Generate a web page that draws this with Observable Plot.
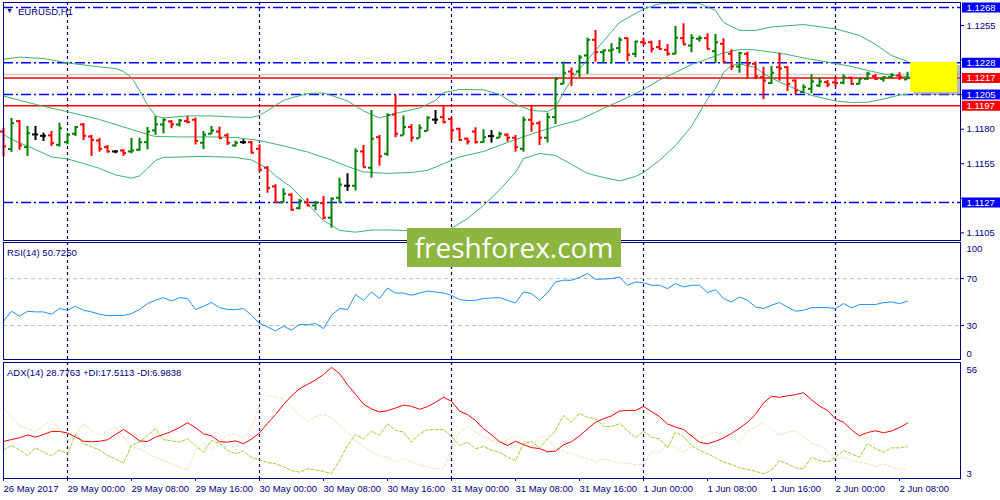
<!DOCTYPE html>
<html><head><meta charset="utf-8">
<script src="https://cdn.jsdelivr.net/npm/d3@7"></script>
<script src="https://cdn.jsdelivr.net/npm/@observablehq/plot@0.6"></script>
<style>
body{margin:0;background:#fff;}
#chart{position:relative;width:1000px;height:500px;overflow:hidden;background:#fff;font-family:"Liberation Sans",Arial,sans-serif;}
#chart svg{position:absolute;left:0;overflow:visible;background:transparent;}
.lbl{position:absolute;font-size:9.5px;line-height:11px;color:#000080;white-space:nowrap;}
#wm{position:absolute;left:407px;top:228px;width:214px;height:39px;background:#8cb640;color:#fff;font-family:"Open Sans",sans-serif;font-size:28px;line-height:39px;text-align:center;}
</style></head><body><div id="chart"></div>
<script>
// ---------- data (EURUSD H1, 26 May 2017 16:00 .. 2 Jun 2017 09:00) ----------
const timeLabels = ["26 May 2017","29 May 00:00","29 May 08:00","29 May 16:00","30 May 00:00","30 May 08:00","30 May 16:00","31 May 00:00","31 May 08:00","31 May 16:00","1 Jun 00:00","1 Jun 08:00","1 Jun 16:00","2 Jun 00:00","2 Jun 08:00"];
const opens = [1.11783,1.11656,1.11858,1.1167,1.11762,1.11752,1.11755,1.11687,1.11706,1.11767,1.11834,1.11747,1.11718,1.1167,1.11639,1.11646,1.11639,1.11651,1.11706,1.11791,1.11834,1.11856,1.11834,1.11858,1.11868,1.11702,1.11767,1.11783,1.11755,1.11682,1.11706,1.11706,1.11658,1.11521,1.11386,1.11272,1.11326,1.11229,1.11272,1.11248,1.11265,1.1116,1.11304,1.11391,1.11391,1.11639,1.11521,1.11742,1.11622,1.11906,1.11755,1.11815,1.11734,1.11787,1.11869,1.11887,1.11874,1.11803,1.11731,1.11783,1.11706,1.1175,1.11738,1.1176,1.11738,1.11658,1.11868,1.11843,1.11738,1.11887,1.12128,1.12217,1.12217,1.12333,1.12446,1.12357,1.12369,1.12386,1.12458,1.12345,1.12429,1.12429,1.12393,1.12374,1.12345,1.12458,1.12405,1.12454,1.12458,1.12364,1.12418,1.12345,1.12253,1.12345,1.12273,1.12176,1.12133,1.12248,1.12248,1.12152,1.12068,1.12092,1.12116,1.1214,1.12138,1.12136,1.12172,1.12128,1.12164,1.12183,1.12164,1.12176,1.12188,1.1216];
const highs = [1.11807,1.11877,1.11863,1.1182,1.1182,1.11771,1.11783,1.11843,1.11771,1.1182,1.11841,1.11755,1.11733,1.11682,1.11646,1.11651,1.11733,1.11735,1.11812,1.11892,1.11875,1.11863,1.1187,1.11892,1.11881,1.11783,1.1182,1.11815,1.11767,1.11713,1.11723,1.11711,1.11687,1.1153,1.11398,1.11369,1.11333,1.11292,1.11297,1.11277,1.11314,1.11304,1.11446,1.11478,1.11658,1.11682,1.11935,1.11755,1.11911,1.12044,1.11896,1.11833,1.11831,1.1189,1.11935,1.11964,1.11881,1.11807,1.11735,1.1181,1.11796,1.11791,1.11778,1.11767,1.11755,1.11887,1.11964,1.11856,1.11916,1.12172,1.12285,1.12243,1.12333,1.12458,1.12514,1.12374,1.12418,1.12461,1.12461,1.12434,1.12458,1.12436,1.12441,1.12413,1.12543,1.12562,1.12483,1.12472,1.1249,1.12485,1.12454,1.12374,1.12357,1.12357,1.12285,1.12248,1.12254,1.1235,1.12253,1.12157,1.12121,1.12193,1.12169,1.12152,1.12176,1.12193,1.12176,1.12169,1.12212,1.12196,1.12181,1.12201,1.12208,1.12212];
const lows = [1.11598,1.11632,1.11646,1.11603,1.11718,1.11711,1.11675,1.1167,1.11687,1.11747,1.11718,1.11603,1.11634,1.11627,1.11622,1.11603,1.11622,1.11639,1.11651,1.11755,1.11767,1.11803,1.11815,1.11839,1.11686,1.11653,1.1176,1.11731,1.11682,1.1167,1.11689,1.11622,1.11489,1.11337,1.11265,1.11265,1.11207,1.11217,1.11241,1.11212,1.11145,1.11084,1.11261,1.1135,1.11352,1.11521,1.11446,1.11533,1.11603,1.11738,1.11751,1.11706,1.11731,1.11783,1.11834,1.11839,1.11718,1.11711,1.11686,1.11693,1.11699,1.11699,1.11731,1.11706,1.11634,1.11634,1.11778,1.11682,1.11699,1.11834,1.12121,1.12109,1.12174,1.12196,1.12285,1.12273,1.12273,1.12345,1.1229,1.12316,1.12405,1.12352,1.12374,1.12328,1.12338,1.1241,1.12352,1.12429,1.12376,1.12273,1.1228,1.12225,1.12205,1.12164,1.12159,1.12013,1.12123,1.12147,1.12073,1.12051,1.12056,1.12056,1.121,1.121,1.12104,1.12121,1.12116,1.12121,1.12152,1.12152,1.1214,1.12164,1.12152,1.12157];
const closes = [1.11675,1.11843,1.11682,1.11771,1.11762,1.11752,1.11699,1.11807,1.1176,1.11815,1.11752,1.11723,1.11658,1.11639,1.11639,1.11627,1.11646,1.11706,1.11783,1.11834,1.11868,1.11834,1.11863,1.11851,1.11715,1.1176,1.11791,1.11735,1.11702,1.11702,1.11706,1.1163,1.11507,1.11376,1.11272,1.11333,1.11217,1.1128,1.11248,1.11268,1.1116,1.11297,1.114,1.11391,1.11641,1.11525,1.11731,1.11603,1.11902,1.11767,1.11815,1.11738,1.11809,1.11883,1.11869,1.11851,1.11791,1.11722,1.11711,1.11706,1.11742,1.1175,1.11767,1.11738,1.1167,1.11868,1.11839,1.11738,1.11887,1.12164,1.12208,1.12201,1.12319,1.12446,1.12357,1.12369,1.12376,1.12446,1.12338,1.12434,1.12422,1.12381,1.12381,1.12345,1.12461,1.12413,1.12461,1.12458,1.12381,1.12429,1.12285,1.12253,1.1235,1.12273,1.12181,1.12152,1.12208,1.12239,1.12128,1.1208,1.12104,1.12145,1.12145,1.12123,1.12134,1.12176,1.12128,1.12164,1.12201,1.12164,1.12176,1.12193,1.12176,1.12172];
// Bollinger Bands (20): [bar index, price]
const bbUpper = [[0,1.12306],[2,1.12321],[5,1.12311],[8,1.12279],[12,1.1225],[14,1.12239],[15,1.12217],[16,1.12174],[17,1.1208],[18,1.11975],[19,1.11896],[20,1.11881],[23,1.11896],[26,1.11896],[29,1.11887],[31,1.11885],[32,1.11899],[33,1.11935],[34,1.11972],[35,1.12008],[36,1.12026],[38,1.12058],[40,1.12062],[41,1.12044],[43,1.12004],[45,1.11932],[47,1.11881],[49,1.11914],[52,1.11953],[54,1.12008],[55,1.12065],[57,1.12087],[60,1.12085],[62,1.12051],[64,1.11979],[66,1.11935],[68,1.11928],[69,1.11957],[70,1.12065],[71,1.12159],[72,1.12235],[74,1.12369],[77,1.12572],[80,1.12669],[82,1.12707],[85,1.12713],[87,1.12709],[89,1.12658],[90,1.12572],[92,1.12514],[94,1.12514],[96,1.12539],[100,1.12557],[104,1.12525],[107,1.12478],[109,1.12413],[111,1.12333],[113,1.1229]];
const bbMiddle = [[0,1.1204],[4,1.11979],[8,1.11926],[12,1.1187],[16,1.11798],[18,1.11762],[19,1.11747],[22,1.11744],[26,1.11744],[29,1.1174],[32,1.11718],[35,1.11679],[38,1.11635],[41,1.11577],[43,1.1153],[45,1.11491],[48,1.1148],[51,1.11487],[53,1.11502],[55,1.1155],[57,1.11599],[60,1.11639],[63,1.11704],[66,1.11765],[69,1.1182],[72,1.11868],[75,1.1195],[78,1.12029],[80,1.12087],[82,1.12156],[84,1.1221],[86,1.12268],[88,1.12308],[90,1.12351],[92,1.12376],[94,1.12373],[96,1.12357],[98,1.1234],[100,1.12315],[103,1.12285],[106,1.12253],[108,1.12225],[110,1.12199],[113,1.12179]];
const bbLower = [[0,1.11762],[1,1.11726],[4,1.11653],[6,1.11599],[8,1.11585],[10,1.11552],[12,1.11516],[14,1.11469],[16,1.11446],[17,1.11462],[18,1.11516],[19,1.11574],[20,1.11596],[25,1.11603],[29,1.11596],[31,1.11577],[33,1.11516],[34,1.11462],[36,1.11379],[38,1.11259],[40,1.1114],[42,1.11068],[44,1.11055],[46,1.11071],[48,1.11071],[50,1.11068],[53,1.11068],[56,1.11082],[58,1.11154],[60,1.11248],[62,1.1136],[64,1.11487],[65,1.11588],[67,1.11624],[69,1.1161],[71,1.11545],[73,1.1148],[75,1.11451],[77,1.11426],[79,1.11458],[80,1.11487],[82,1.11574],[84,1.11682],[86,1.1182],[88,1.12019],[89,1.12094],[90,1.1221],[91,1.12261],[92,1.12272],[94,1.12246],[95,1.12203],[97,1.1214],[99,1.12092],[101,1.12044],[104,1.12004],[106,1.11993],[108,1.11995],[110,1.12018],[112,1.12047],[113,1.12051]];
const rsi = [33.7,42.2,37.9,42.2,41.6,41.6,39.6,44.5,43,46.4,43,41.6,39.6,38.5,38.5,38.5,40.2,43.6,48.7,51.5,53.8,50.9,53.8,53,43.6,46.4,49.6,45.3,43.6,43.6,44.5,38.8,31.7,28.8,25.4,29.4,26,30.9,30.6,31.7,27.4,38.8,44.5,43.6,56.4,51.5,58.6,53,62,57.7,57.7,55.8,57.7,59.4,58.6,57.7,55.8,52.1,51.3,51.5,53,53.5,53.8,51.5,49.2,58.6,57.2,51.5,58,67.1,68.6,68.6,71,74.3,69.4,69.6,70,71.4,64.3,67.1,66.5,64.3,64.3,61.5,65.7,62.9,64.3,64.3,58.1,60.6,53,50.1,54.3,51.5,45.8,44.5,47.3,49.6,45.8,42.2,43,45.3,45.3,45.3,44.5,48.7,45,47.9,47.9,47.9,49.5,50.1,48.7,50.7];
const adx = [19.9,20.8,21.6,22.9,21.9,23.1,24.5,24.5,23.8,22,20,19.8,20,20.7,23.1,25.4,23,20.2,19.9,21.9,23.1,24.5,26.3,28.5,26.2,23.4,22.5,19.8,19.6,20.2,18.9,21,23.8,28.2,32.2,36.8,40.8,44,46,48,50.5,53.8,51,45.8,41.5,37,34.8,33.4,34,35.2,36.5,36,34.6,35.8,37.8,40.1,38.3,33.8,32.2,29.5,25.7,23,19.8,18.1,20,18.5,17.1,16.7,15.2,15.5,18.4,19.8,22.5,25.7,28.7,30.3,31.6,33.8,34.1,34.1,35.9,33.6,31.3,27.9,26.5,25.4,22.5,19.5,18.9,20,21.5,23.6,26,28.7,32.3,37.5,40.6,40.1,40.8,41.3,42.2,39,36.1,34.1,30.3,28.7,25.3,22.5,24,24.8,23.9,24.7,26.3,28.3];
const plusDI = [16.1,18.1,16.1,13.5,17,15,13.3,16,14.3,23.1,19.1,17.5,16.1,13.5,12,10,18.1,19.6,22.7,25.7,20.7,20.2,19.6,21.1,18.1,15,20.4,19.1,15.8,14.3,15.5,12.7,11.6,10.3,9.7,8.5,6.6,5.9,7.4,6.9,6.3,5.2,11.2,18.1,23.1,21.1,24.6,22.7,28,25,24.2,19.6,23.4,25.3,25.3,25.3,22.2,18.1,19.6,16.6,17.6,16,15,12.7,11.2,18.9,20,17,21.1,25,31.8,28.7,32.8,31,30.3,26.8,26.8,28,24.9,21.6,24.6,21.9,21.1,17,24.2,22.2,18.1,15.8,14.3,12.5,10.5,9.4,7.9,7.1,6.3,5.2,6.7,11.2,9.7,7.9,7.4,12.7,11.2,10.5,12.7,15.8,14.3,12.7,19.1,16.6,15,17,17,17.5];
const minusDI = [35.6,31,27.2,25.7,24.2,27.2,29.2,25.7,20.4,22.7,28,24.9,22.7,24.9,26.5,21.9,17.6,16.6,14.5,12.7,11.2,9.7,8.2,7,15.8,19.6,15.8,20.4,22.7,23.4,21.6,25.7,37.1,41.2,40.1,39.4,35.6,31.8,29,31.3,32.2,30.7,27.2,24.2,20.4,17.6,15,13.5,12.5,10.8,12,10.5,9.4,8.2,7.4,7.4,16.6,24.2,26.8,24.2,22.2,20.4,19.6,20.7,22.7,20.7,17.6,22.2,21.1,17,15.5,14.3,13,12,10.5,12,10.9,10,10,9.2,9.7,15,15,18.9,17.3,15,17.3,21.1,23.1,24.2,22.7,21.6,19.6,24.2,26.5,28.7,25.7,22.7,24.2,24.6,22.2,19.1,18.1,15.5,12,12.5,11.2,10.5,9.7,8.5,9.7,8.2,7.4,7];
const blueLevels = [1.1268, 1.1228, 1.1205, 1.1127];
const redLevels = [1.1217, 1.1197];
const askLevel = [1.12196];
const priceTicks = [1.1105, 1.1130, 1.1155, 1.1180, 1.1205, 1.1230, 1.1255];
const hiddenTicks = [1.1130, 1.1205, 1.1230]; // their labels sit under the level boxes
const priceBoxes = [{v:1.1268,c:"#0000ff"},{v:1.1228,c:"#0000ff"},{v:1.1217,c:"#ff0000"},{v:1.1205,c:"#0000ff"},{v:1.1197,c:"#ff0000"},{v:1.1127,c:"#0000ff"}];
const zone = [{x1:113.4, x2:119.25, y1:1.12065, y2:1.12282}];
const rsiLevels = [70, 30];
const gridBars = [8, 32, 56, 80, 104];

// ---------- build ----------
const navy = "#000080";
const bars = opens.map((o, i) => ({i, o, h: highs[i], l: lows[i], c: closes[i]}));
const barColor = d => d.c > d.o ? "#008000" : d.c < d.o ? "#ff0000" : "#000000";
const baseStyle = {fontFamily: "'Liberation Sans', Arial, sans-serif", fontSize: "9.5px", color: navy, background: "transparent", overflow: "visible"};
const common = {width: 1000, marginLeft: 3, marginRight: 40, style: baseStyle, color: {type: "identity"}};
const xDom = [0, 119.625];
const grid = Plot.ruleX(gridBars, {stroke: navy, strokeDasharray: "3,3", strokeWidth: 1.2});

const pricePlot = Plot.plot({
  ...common, height: 242, marginTop: 2, marginBottom: 2,
  x: {domain: xDom, axis: null},
  y: {domain: [1.10995, 1.12716], axis: null},
  marks: [
    grid,
    Plot.ruleY(askLevel, {stroke: "#d0d0d0", strokeWidth: 1.5}),
    Plot.ruleY(blueLevels, {stroke: "#0000ff", strokeWidth: 1.5, strokeDasharray: "10,3,2,3"}),
    Plot.ruleY(redLevels, {stroke: "#ff0000", strokeWidth: 1.5}),
    Plot.line(bbUpper, {x: d => d[0], y: d => d[1], stroke: "#3cb371", strokeWidth: 1}),
    Plot.line(bbMiddle, {x: d => d[0], y: d => d[1], stroke: "#3cb371", strokeWidth: 1}),
    Plot.line(bbLower, {x: d => d[0], y: d => d[1], stroke: "#3cb371", strokeWidth: 1}),
    Plot.ruleX(bars, {x: "i", y1: "l", y2: "h", stroke: barColor, strokeWidth: 2}),
    Plot.ruleY(bars, {y: "o", x1: d => d.i - 0.375, x2: "i", stroke: barColor, strokeWidth: 2}),
    Plot.ruleY(bars, {y: "c", x1: "i", x2: d => d.i + 0.375, stroke: barColor, strokeWidth: 2}),
    Plot.rect(zone, {x1: "x1", x2: "x2", y1: "y1", y2: "y2", fill: "#777", fillOpacity: 0.5, dx: 3, dy: 3}),
    Plot.rect(zone, {x1: "x1", x2: "x2", y1: "y1", y2: "y2", fill: "#ffff00"}),
    Plot.axisY({anchor: "right", ticks: priceTicks, tickFormat: d => hiddenTicks.includes(d) ? "" : d.toFixed(4), tickSize: 3, tickPadding: 3, label: null}),
    Plot.ruleY(priceBoxes, {y: "v", stroke: "c", strokeWidth: 10, insetLeft: 959, insetRight: -40}),
    Plot.text(priceBoxes, {y: "v", text: d => d.v.toFixed(4), frameAnchor: "right", dx: 6, textAnchor: "start", fill: "#ffffff"}),
    Plot.frame({stroke: navy})
  ]
});

const rsiPlot = Plot.plot({
  ...common, height: 120, marginTop: 2, marginBottom: 1,
  x: {domain: xDom, axis: null},
  y: {domain: [1, 100.8], axis: null},
  marks: [
    grid,
    Plot.ruleY(rsiLevels, {stroke: "#c0c0c0", strokeDasharray: "4,3"}),
    Plot.line(rsi, {x: (d, i) => i, y: d => d, stroke: "#1e90ff", strokeWidth: 1}),
    Plot.axisY({anchor: "right", ticks: rsiLevels, tickSize: 3, tickPadding: 3, label: null}),
    Plot.text([100], {y: d => d, text: d => String(d), frameAnchor: "right", dx: 6, dy: 6, textAnchor: "start", fill: navy}),
    Plot.text([0], {y: d => d, text: d => String(d), frameAnchor: "right", dx: 6, dy: -7, textAnchor: "start", fill: navy}),
    Plot.frame({stroke: navy})
  ]
});

const adxPlot = Plot.plot({
  ...common, height: 140, marginTop: 2, marginBottom: 22,
  x: {domain: xDom},
  y: {domain: [3, 56], axis: null},
  marks: [
    grid,
    Plot.line(minusDI, {x: (d, i) => i, y: d => d, stroke: "#f5deb3", strokeWidth: 1, strokeDasharray: "3,2"}),
    Plot.line(plusDI, {x: (d, i) => i, y: d => d, stroke: "#9acd32", strokeWidth: 1, strokeDasharray: "3,2"}),
    Plot.line(adx, {x: (d, i) => i, y: d => d, stroke: "#ff0000", strokeWidth: 1}),
    Plot.text([56], {y: d => d, text: d => String(d), frameAnchor: "right", dx: 6, dy: 7, textAnchor: "start", fill: navy}),
    Plot.text([3], {y: d => d, text: d => String(d), frameAnchor: "right", dx: 6, dy: -5, textAnchor: "start", fill: navy}),
    Plot.axisX({anchor: "bottom", ticks: timeLabels.map((t, k) => k * 8), tickFormat: d => timeLabels[d / 8], textAnchor: "start", tickSize: 3, tickPadding: 4, label: null}),
    Plot.frame({stroke: navy})
  ]
});

const chart = document.getElementById("chart");
[[pricePlot, 0], [rsiPlot, 240], [adxPlot, 360]].forEach(([svg, top]) => {
  svg.style.position = "absolute";
  svg.style.top = top + "px";
  svg.style.left = "0px";
  chart.appendChild(svg);
});
function addLabel(text, left, top, extra) {
  const d = document.createElement("div");
  d.className = "lbl";
  d.textContent = text;
  d.style.left = left + "px";
  d.style.top = top + "px";
  if (extra) Object.assign(d.style, extra);
  chart.appendChild(d);
}
addLabel("\u25BC", 6, 5, {fontSize: "7px"});
addLabel("EURUSD,H1", 18, 5.5);
addLabel("RSI(14) 50.7250", 7, 246.5);
addLabel("ADX(14) 28.7763 +DI:17.5113 -DI:6.9838", 7, 366.5);
const wm = document.createElement("div");
wm.id = "wm";
wm.textContent = "freshforex.com";
chart.appendChild(wm);
</script></body></html>
